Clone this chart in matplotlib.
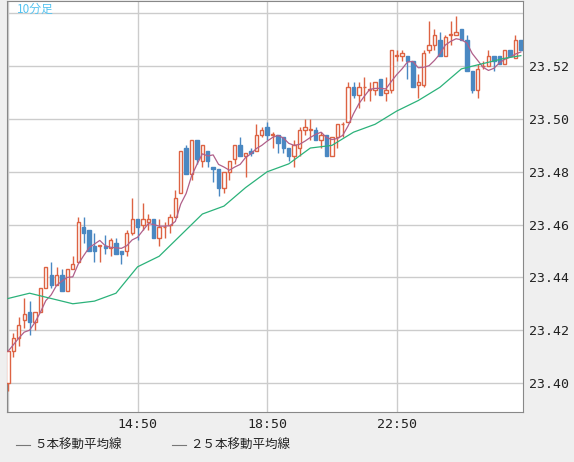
import numpy as np
import pandas as pd
import matplotlib
matplotlib.use("Agg")
import matplotlib.pyplot as plt

plt.rcParams['font.family'] = ['Noto Sans CJK JP', 'DejaVu Sans']

# 10-minute candles, 10:50 .. 02:40
opens = [23.400, 23.412, 23.417, 23.424, 23.427, 23.423, 23.427, 23.436, 23.441, 23.437,
         23.441, 23.435, 23.443, 23.446, 23.459, 23.458, 23.452, 23.452, 23.452, 23.451,
         23.453, 23.450, 23.450, 23.457, 23.462, 23.460, 23.461, 23.462, 23.455, 23.459,
         23.460, 23.463, 23.472, 23.489, 23.479, 23.492, 23.484, 23.488, 23.482, 23.481,
         23.474, 23.480, 23.485, 23.490, 23.486, 23.488, 23.488, 23.494, 23.497, 23.494,
         23.494, 23.493, 23.489, 23.486, 23.489, 23.496, 23.496, 23.496, 23.492, 23.494,
         23.486, 23.493, 23.498, 23.499, 23.512, 23.509, 23.512, 23.511, 23.511, 23.515,
         23.510, 23.511, 23.524, 23.524, 23.524, 23.522, 23.513, 23.513, 23.526, 23.528,
         23.530, 23.524, 23.532, 23.532, 23.534, 23.530, 23.518, 23.511, 23.520, 23.520,
         23.524, 23.524, 23.521, 23.526, 23.523, 23.530]
highs = [23.412, 23.419, 23.425, 23.432, 23.431, 23.427, 23.436, 23.444, 23.446, 23.444,
         23.443, 23.443, 23.448, 23.463, 23.463, 23.458, 23.457, 23.452, 23.456, 23.455,
         23.455, 23.450, 23.458, 23.470, 23.462, 23.468, 23.464, 23.462, 23.462, 23.461,
         23.464, 23.473, 23.488, 23.490, 23.492, 23.492, 23.490, 23.488, 23.482, 23.481,
         23.480, 23.484, 23.490, 23.493, 23.487, 23.489, 23.498, 23.497, 23.499, 23.495,
         23.494, 23.493, 23.489, 23.492, 23.497, 23.500, 23.500, 23.497, 23.495, 23.494,
         23.493, 23.498, 23.499, 23.514, 23.514, 23.514, 23.516, 23.514, 23.514, 23.515,
         23.516, 23.526, 23.526, 23.526, 23.524, 23.522, 23.517, 23.526, 23.537, 23.534,
         23.533, 23.532, 23.537, 23.539, 23.534, 23.532, 23.518, 23.521, 23.522, 23.526,
         23.524, 23.524, 23.526, 23.526, 23.532, 23.530]
lows = [23.397, 23.410, 23.414, 23.421, 23.418, 23.420, 23.427, 23.436, 23.436, 23.437,
        23.435, 23.435, 23.443, 23.446, 23.453, 23.450, 23.446, 23.446, 23.449, 23.448,
        23.449, 23.445, 23.448, 23.456, 23.454, 23.458, 23.458, 23.455, 23.452, 23.455,
        23.457, 23.463, 23.472, 23.479, 23.477, 23.483, 23.482, 23.482, 23.476, 23.471,
        23.472, 23.477, 23.483, 23.486, 23.478, 23.486, 23.488, 23.493, 23.492, 23.489,
        23.487, 23.487, 23.484, 23.482, 23.486, 23.494, 23.492, 23.492, 23.489, 23.486,
        23.486, 23.489, 23.493, 23.499, 23.508, 23.504, 23.507, 23.507, 23.509, 23.509,
        23.507, 23.510, 23.522, 23.522, 23.515, 23.512, 23.508, 23.512, 23.525, 23.526,
        23.524, 23.524, 23.528, 23.532, 23.530, 23.518, 23.510, 23.508, 23.519, 23.520,
        23.518, 23.521, 23.521, 23.524, 23.523, 23.526]
closes = [23.412, 23.417, 23.422, 23.426, 23.423, 23.427, 23.436, 23.444, 23.437, 23.441,
          23.435, 23.443, 23.445, 23.461, 23.457, 23.450, 23.450, 23.452, 23.451, 23.454,
          23.449, 23.449, 23.457, 23.462, 23.459, 23.462, 23.462, 23.455, 23.459, 23.459,
          23.463, 23.470, 23.488, 23.479, 23.492, 23.485, 23.490, 23.484, 23.481, 23.474,
          23.480, 23.484, 23.490, 23.486, 23.487, 23.487, 23.494, 23.496, 23.494, 23.494,
          23.491, 23.489, 23.486, 23.490, 23.496, 23.497, 23.496, 23.492, 23.494, 23.486,
          23.493, 23.498, 23.498, 23.512, 23.509, 23.512, 23.512, 23.511, 23.514, 23.509,
          23.511, 23.526, 23.524, 23.525, 23.522, 23.512, 23.514, 23.525, 23.528, 23.532,
          23.524, 23.531, 23.532, 23.533, 23.530, 23.518, 23.511, 23.519, 23.520, 23.524,
          23.522, 23.521, 23.526, 23.524, 23.530, 23.526]

# 25-bar moving average every 4 bars
ma25_idx = [0, 4, 8, 12, 16, 20, 24, 28, 32, 36, 40, 44, 48, 52, 56, 60, 64, 68, 72, 76, 80, 84, 88, 92, 95]
ma25_val = [23.432, 23.434, 23.432, 23.430, 23.431, 23.434, 23.444, 23.448, 23.456, 23.464,
            23.467, 23.474, 23.480, 23.483, 23.489, 23.490, 23.495, 23.498, 23.503, 23.507,
            23.512, 23.519, 23.521, 23.523, 23.524]

xtick_pos = [24, 48, 72]
xtick_labels = ["14:50", "18:50", "22:50"]
yticks = [23.40, 23.42, 23.44, 23.46, 23.48, 23.50, 23.52]

UP = "#dd6343"
DOWN = "#4a88c2"

fig = plt.figure(figsize=(5.74, 4.62), dpi=100, facecolor="#efefef")
ax = fig.add_axes([7 / 574, 50 / 462, 516 / 574, 411 / 462])
ax.set_facecolor("white")

ma5 = pd.Series(closes).rolling(5, min_periods=1).mean()
x = np.arange(len(closes))
w = 0.62
for i in x:
    o, h, l, c = opens[i], highs[i], lows[i], closes[i]
    up = c >= o
    col = UP if up else DOWN
    ax.vlines(i, l, h, color=col, lw=1, zorder=2)
    bottom = min(o, c)
    height = max(abs(c - o), 0.0002)
    ax.bar(i, height, w, bottom=bottom, facecolor="white" if up else DOWN,
           edgecolor=col, lw=1, zorder=3)

ax.plot(x, ma5, color="#b0608a", lw=0.9, zorder=4)
ax.plot(ma25_idx, ma25_val, color="#2bb27a", lw=0.9, zorder=4)

ax.set_xlim(-0.19, 95.4)
ax.set_ylim(23.389, 23.5447)
ax.set_yticks(yticks + [23.54])
ax.set_yticklabels([f"{v:.2f}" for v in yticks] + [""])
ax.set_xticks([0] + xtick_pos)
ax.set_xticklabels([""] + xtick_labels)
ax.yaxis.tick_right()
ax.tick_params(length=0, labelsize=9.5, colors="#222222", pad=4)
for lab in ax.get_xticklabels() + ax.get_yticklabels():
    lab.set_family("DejaVu Sans Mono")
ax.grid(True, color="#cccccc", lw=1)
ax.set_axisbelow(True)
for s in ax.spines.values():
    s.set_color("#888888")

ax.text(0.02, 0.995, "10分足", transform=ax.transAxes, color="#55c3f0",
        fontsize=8.5, va="top", ha="left")

fig.lines.append(plt.Line2D([16 / 574, 30 / 574], [17 / 462, 17 / 462], color="#777777", lw=0.8,
                            transform=fig.transFigure))
fig.text(34 / 574, 17 / 462, "５本移動平均線", fontsize=9, va="center", color="#222222")
fig.lines.append(plt.Line2D([172 / 574, 186 / 574], [17 / 462, 17 / 462], color="#777777", lw=0.8,
                            transform=fig.transFigure))
fig.text(190 / 574, 17 / 462, "２５本移動平均線", fontsize=9, va="center", color="#222222")

fig.savefig("out.png", dpi=100, facecolor=fig.get_facecolor())
